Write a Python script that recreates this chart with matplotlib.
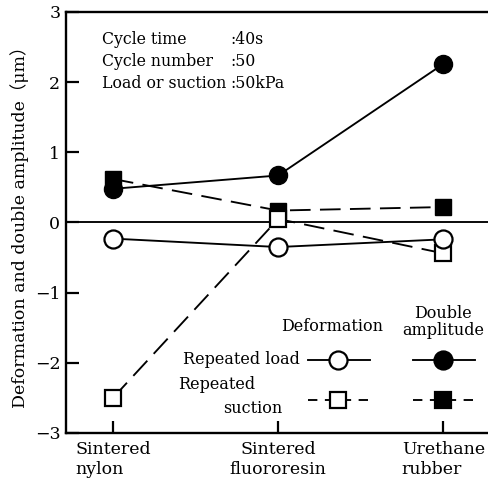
import matplotlib.pyplot as plt
from matplotlib.lines import Line2D

plt.rcParams['font.family'] = ['DejaVu Serif', 'Noto Sans CJK JP']

materials = ["Sintered\nnylon", "Sintered\nfluororesin", "Urethane\nrubber"]
xpos = [0, 1, 2]
load_deform = [-0.23, -0.35, -0.24]
load_amp = [0.48, 0.67, 2.26]
suction_deform = [-2.5, 0.05, -0.44]
suction_amp = [0.62, 0.17, 0.22]
yticks = [-3, -2, -1, 0, 1, 2, 3]

fig = plt.figure(figsize=(4.88, 4.8), dpi=100)
ax = fig.add_axes([0.135, 0.098, 0.865, 0.877])

lw = 1.35
ax.axhline(0, color='black', lw=lw, zorder=1)

ms_c = 13
ms_s = 12
dash = (11, 5)
# filled squares first, open squares on top of them, circles on top
ax.plot(xpos, suction_amp, color='black', lw=lw, dashes=dash,
        marker='s', ms=ms_s, mfc='black', mec='black', zorder=2)
ax.plot(xpos, suction_deform, color='black', lw=lw, dashes=dash,
        marker='s', ms=ms_s, mfc='white', mec='black', mew=1.6, zorder=3)
ax.plot(xpos, load_amp, color='black', lw=lw,
        marker='o', ms=ms_c, mfc='black', mec='black', zorder=4)
ax.plot(xpos, load_deform, color='black', lw=lw,
        marker='o', ms=ms_c, mfc='white', mec='black', mew=1.6, zorder=5)

ax.set_xlim(-0.285, 2.27)
ax.set_ylim(-3, 3)
ax.set_yticks(yticks)
ax.set_yticklabels([str(v) if v >= 0 else '\u2212' + str(-v) for v in yticks])
ax.set_xticks(xpos)
ax.set_xticklabels(materials)
labs = ax.get_xticklabels()
labs[0].set_multialignment('left')
labs[1].set_multialignment('center')
labs[2].set_multialignment('left')

ax.tick_params(direction='in', length=9, width=1.6, labelsize=12.5, pad=4)
ax.tick_params(axis='x', pad=6)
ax.spines['right'].set_visible(False)
for s in ['left', 'bottom', 'top']:
    ax.spines[s].set_linewidth(1.7)

ax.set_ylabel('Deformation and double amplitude\uff08\u03bcm\uff09', fontsize=12.5,
              labelpad=4)

# test conditions
cond_names = ["Cycle time", "Cycle number", "Load or suction"]
cond_vals = [":40s", ":50", ":50kPa"]
for i, (n, v) in enumerate(zip(cond_names, cond_vals)):
    yy = 0.935 - i * 0.052
    ax.text(0.085, yy, n, transform=ax.transAxes, fontsize=11.3, va='center')
    ax.text(0.39, yy, v, transform=ax.transAxes, fontsize=11.3, va='center')

# legend drawn by hand
def axx(px):
    return (px - 66) / 422.0

def axy(py):
    return (433 - py) / 421.0

fs = 11.5
ax.text(axx(332), axy(327), "Deformation", transform=ax.transAxes,
        fontsize=fs, ha='center', va='center')
ax.text(axx(443), axy(322), "Double\namplitude", transform=ax.transAxes,
        fontsize=fs, ha='center', va='center', linespacing=1.0)
ax.text(axx(300), axy(360), "Repeated load", transform=ax.transAxes,
        fontsize=fs, ha='right', va='center')
ax.text(axx(178), axy(385), "Repeated", transform=ax.transAxes,
        fontsize=fs, ha='left', va='center')
ax.text(axx(282), axy(409), "suction", transform=ax.transAxes,
        fontsize=fs, ha='right', va='center')

samples = [
    (338, 360, 'o', 'white', None, ms_c),
    (443, 360, 'o', 'black', None, ms_c),
    (338, 400, 's', 'white', (5, 4), ms_s),
    (443, 400, 's', 'black', (5, 4), ms_s),
]
for cx, cy, mk, fc, ds, ms in samples:
    ln = Line2D([axx(cx - 30), axx(cx), axx(cx + 32)], [axy(cy)] * 3,
                transform=ax.transAxes, color='black', lw=lw,
                marker=mk, markevery=[1], ms=ms, mfc=fc, mec='black', mew=1.6)
    if ds:
        ln.set_dashes(ds)
    ax.add_line(ln)

fig.savefig('out.png', dpi=100)
